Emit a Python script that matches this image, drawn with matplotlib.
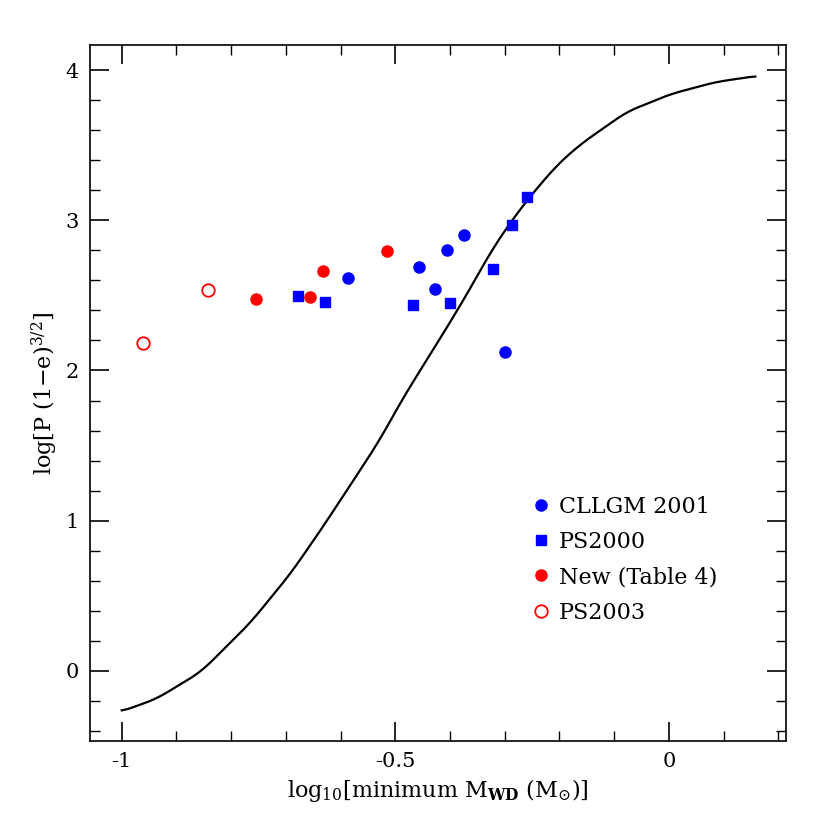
import matplotlib
matplotlib.use("Agg")
import matplotlib.pyplot as plt
from matplotlib.ticker import MultipleLocator, FuncFormatter
import numpy as np

plt.rcParams['font.family'] = ['DejaVu Serif']
plt.rcParams['mathtext.fontset'] = 'dejavuserif'

cllgm_x = [-0.587, -0.457, -0.406, -0.375, -0.428, -0.300]
cllgm_y = [2.615, 2.69, 2.80, 2.90, 2.54, 2.12]
ps2000_x = [-0.678, -0.629, -0.468, -0.400, -0.322, -0.287, -0.260]
ps2000_y = [2.495, 2.455, 2.435, 2.45, 2.675, 2.97, 3.155]
new_x = [-0.755, -0.656, -0.633, -0.516]
new_y = [2.475, 2.49, 2.66, 2.795]
ps2003_x = [-0.962, -0.843]
ps2003_y = [2.18, 2.535]
curve_x = [-1.0, -0.936, -0.855, -0.765, -0.691, -0.634, -0.569, -0.528, -0.487, -0.446,
           -0.405, -0.364, -0.324, -0.283, -0.242, -0.201, -0.160, -0.078, 0.003, 0.085, 0.158]
curve_y = [-0.27, -0.185, -0.006, 0.32, 0.65, 0.95, 1.31, 1.54, 1.81, 2.05,
           2.29, 2.54, 2.80, 3.02, 3.21, 3.38, 3.51, 3.72, 3.84, 3.92, 3.96]

fig = plt.figure(figsize=(8.3, 8.3), dpi=100)
ax = fig.add_axes([90/830, 89/830, 696/830, 696/830])
xs = np.linspace(-1, 0.158, 400)
ys = np.interp(xs, curve_x, curve_y)
k = np.ones(15) / 15
ys_s = np.convolve(np.pad(ys, 7, mode='edge'), k, mode='valid')
ax.plot(xs, ys_s, color='black', lw=1.6)
ax.plot(cllgm_x, cllgm_y, 'o', color='blue', ms=8, ls='none', label='CLLGM 2001')
ax.plot(ps2000_x, ps2000_y, 's', color='blue', ms=7, ls='none', label='PS2000')
ax.plot(new_x, new_y, 'o', color='red', ms=8, ls='none', label='New (Table 4)')
ax.plot(ps2003_x, ps2003_y, 'o', mfc='none', mec='red', mew=1.3, ms=9, ls='none', label='PS2003')
ax.set_xlim(-1.058, 0.214)
ax.set_ylim(-0.467, 4.167)
ax.xaxis.set_major_locator(MultipleLocator(0.5))
ax.xaxis.set_minor_locator(MultipleLocator(0.1))
ax.yaxis.set_major_locator(MultipleLocator(1))
ax.yaxis.set_minor_locator(MultipleLocator(0.2))
ax.xaxis.set_major_formatter(FuncFormatter(lambda v, p: '%g' % round(v, 2) if abs(v) > 1e-9 else '0'))
ax.tick_params(which='both', direction='in', top=True, right=True, labelsize=15)
ax.tick_params(which='major', length=14, width=1.2, pad=8)
ax.tick_params(which='minor', length=7, width=1)
for s in ax.spines.values():
    s.set_linewidth(1.2)
ax.set_xlabel(r'log$_{10}$[minimum M$_{\mathbf{WD}}$ (M$_{\odot}$)]', fontsize=16)
ax.set_ylabel(r'log[P (1$-$e)$^{3/2}$]', fontsize=16)
ax.legend(loc='lower right', bbox_to_anchor=(0.93, 0.14), frameon=False, fontsize=16,
          handletextpad=0.3, labelspacing=0.6, handlelength=1.0)
fig.savefig('out.png', dpi=100)
